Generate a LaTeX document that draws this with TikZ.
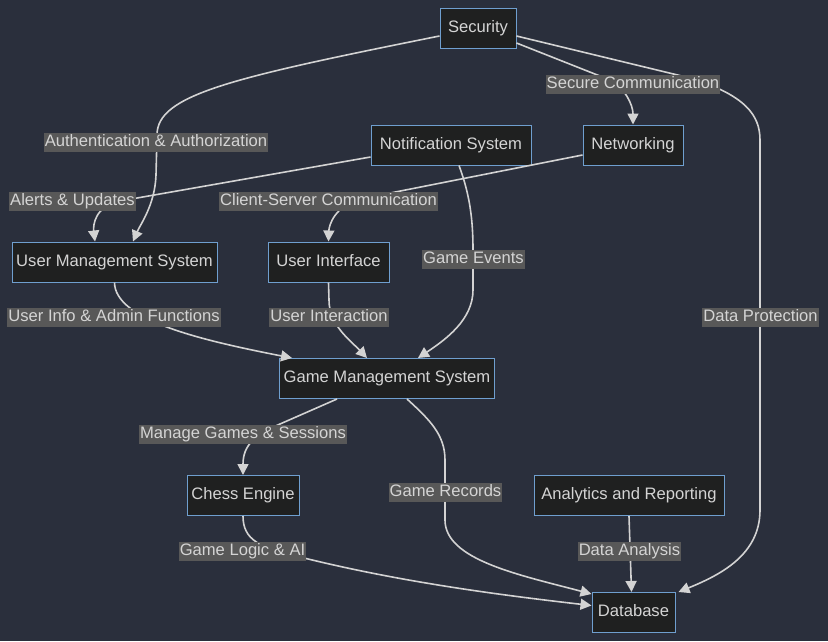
\documentclass[tikz,border=0pt]{standalone}
\usepackage{fontspec}
\setmainfont{Liberation Sans}
\usetikzlibrary{arrows.meta}
\definecolor{bgc}{HTML}{2A2F3C}
\definecolor{nodefill}{HTML}{1F2020}
\definecolor{nodeborder}{HTML}{6F9FCF}
\definecolor{lblfill}{HTML}{585858}
\definecolor{linec}{HTML}{D3D3D3}
\definecolor{txtc}{HTML}{D4D4D4}
\tikzset{
  box/.style={draw=nodeborder, line width=1pt, fill=nodefill, text=txtc,
    font=\fontsize{16.6pt}{19pt}\selectfont, minimum height=40pt, inner xsep=4pt,
    text height=12pt, text depth=3.5pt},
  lbl/.style={fill=lblfill, text=txtc, font=\fontsize{16.6pt}{19pt}\selectfont,
    inner xsep=1pt, inner ysep=1.5pt, text height=12pt, text depth=4pt},
  conn/.style={draw=linec, line width=1.6pt, -{Triangle[length=11pt,width=11pt]}},
}
\begin{document}
\begin{tikzpicture}[x=1pt,y=-1pt]
\fill[bgc] (0,0) rectangle (828,641);
\useasboundingbox (0,0) rectangle (828,641);
% nodes
\node[box, minimum width=76pt] (sec) at (478,28) {Security};
\node[box, minimum width=160pt] (notif) at (451,145) {Notification System};
\node[box, minimum width=100pt] (net) at (633,145) {Networking};
\node[box, minimum width=205pt] (ums) at (114.5,262) {User Management System};
\node[box, minimum width=121pt] (ui) at (328.5,262) {User Interface};
\node[box, minimum width=214pt] (gms) at (387,378.5) {Game Management System};
\node[box, minimum width=112pt] (ce) at (243,495.5) {Chess Engine};
\node[box, minimum width=190pt] (ar) at (629,495.5) {Analytics and Reporting};
\node[box, minimum width=83pt] (db) at (633.5,612.5) {Database};
% connectors
\draw[conn] ([yshift=-8pt]sec.west) .. controls (230,78) and (157,95) .. (157,135)
  -- (156,175) .. controls (155,205) and (140,225) .. ([xshift=18.5pt]ums.north);
\draw[conn] ([yshift=-12pt]notif.west) -- (120,201) .. controls (95,206) and (93,225) .. ([xshift=-19.5pt]ums.north);
\draw[conn] ([yshift=-10pt]net.west) -- (360,199) .. controls (335,206) and (329,225) .. (ui.north);
\draw[conn] ([yshift=-15pt]sec.east) -- (610,80) .. controls (625,88) and (633,105) .. (net.north);
\draw[conn] ([yshift=-8pt]sec.east) -- (690,78) .. controls (745,95) and (760,115) .. (760,140)
  -- (760,510) .. controls (760,555) and (720,575) .. ([xshift=3pt]db.north east);
\draw[conn] ([xshift=8pt]notif.south) .. controls (470,195) and (473,220) .. (473,250)
  -- (473,290) .. controls (473,320) and (445,340) .. ([xshift=31pt]gms.north);
\draw[conn] (ums.south) .. controls (115,320) and (200,340) .. ([xshift=-95pt]gms.north);
\draw[conn] (ui.south) -- (329,300) .. controls (329,325) and (350,340) .. ([xshift=-20pt]gms.north);
\draw[conn] ([xshift=-50pt]gms.south) -- (280,424) .. controls (255,435) and (243,445) .. (ce.north);
\draw[conn] ([xshift=20pt]gms.south) .. controls (430,420) and (445,435) .. (445,460)
  -- (445,520) .. controls (445,560) and (520,575) .. ([yshift=-2pt]db.north west);
\draw[conn] (ce.south) .. controls (243,540) and (260,548) .. (300,557)
  .. controls (400,582) and (500,595) .. ([yshift=7pt]db.west);
\draw[conn] (ar.south) -- ([xshift=-2pt]db.north);
% labels
\node[lbl] (l1) at (156,142.5) {Authentication \& Authorization};
\node[lbl] (l2) at (72.5,201.5) {Alerts \& Updates};
\node[lbl] (l3) at (328.5,201.5) {Client-Server Communication};
\node[lbl] (l4) at (633,84.5) {Secure Communication};
\node[lbl] (l5) at (473.5,259.5) {Game Events};
\node[lbl] (l6) at (760.5,317.5) {Data Protection};
\node[lbl] (l7) at (114,317.5) {User Info \& Admin Functions};
\node[lbl] (l8) at (329,317.5) {User Interaction};
\node[lbl] (l9) at (243,434.5) {Manage Games \& Sessions};
\node[lbl] (l10) at (445.5,492.5) {Game Records};
\node[lbl] (l11) at (242.5,551.5) {Game Logic \& AI};
\node[lbl] (l12) at (629.5,551.5) {Data Analysis};
\end{tikzpicture}
\end{document}
